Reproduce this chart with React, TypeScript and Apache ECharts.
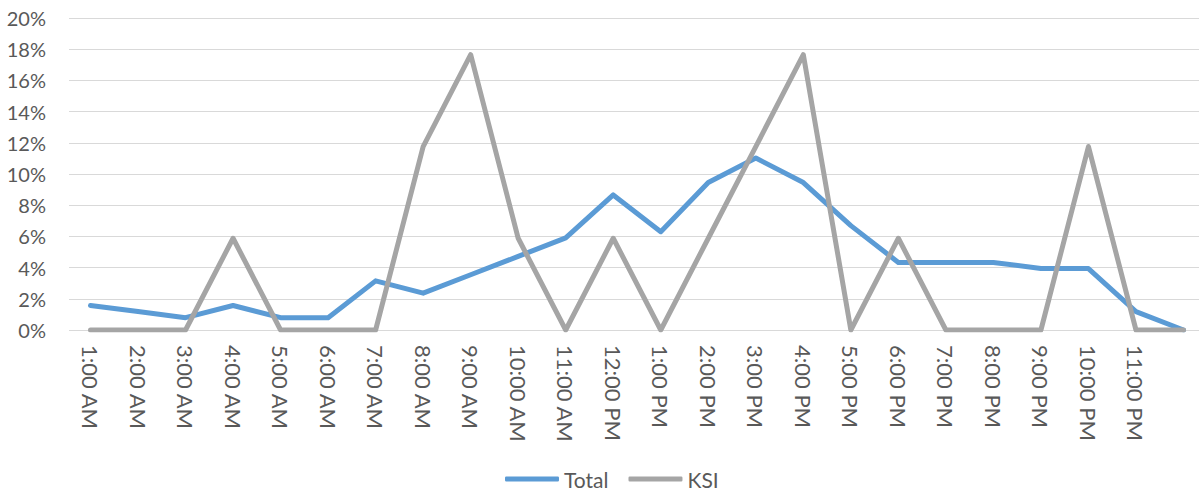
import React, { useEffect, useRef } from "react";
import * as echarts from "echarts";

const hours = [
  "1:00 AM", "2:00 AM", "3:00 AM", "4:00 AM", "5:00 AM", "6:00 AM",
  "7:00 AM", "8:00 AM", "9:00 AM", "10:00 AM", "11:00 AM", "12:00 PM",
  "1:00 PM", "2:00 PM", "3:00 PM", "4:00 PM", "5:00 PM", "6:00 PM",
  "7:00 PM", "8:00 PM", "9:00 PM", "10:00 PM", "11:00 PM", "",
];

// percent of crashes per hour
const totalPct = [
  1.57, 1.18, 0.79, 1.57, 0.79, 0.79, 3.15, 2.36, 3.54, 4.72, 5.91, 8.66,
  6.3, 9.45, 11.02, 9.45, 6.69, 4.33, 4.33, 4.33, 3.94, 3.94, 1.18, 0,
];
const ksiPct = [
  0, 0, 0, 5.88, 0, 0, 0, 11.76, 17.65, 5.88, 0, 5.88,
  0, 5.88, 11.76, 17.65, 0, 5.88, 0, 0, 0, 11.76, 0, 0,
];

const yMin = 0;
const yMax = 20;
const yStep = 2;

const seriesNames = ["Total", "KSI"];
const seriesColors = ["#5B9BD5", "#A5A5A5"];

export default function App() {
  const ref = useRef<HTMLDivElement>(null);

  useEffect(() => {
    const chart = echarts.init(ref.current!, null, { renderer: "svg" });
    const font = "Lato";
    chart.setOption({
      animation: false,
      textStyle: { fontFamily: font },
      grid: [
        { left: 69, right: 0, top: 18, height: 312 },
        { left: 90.5, width: 1093, top: 18, height: 312 },
      ],
      xAxis: [
        { gridIndex: 0, type: "category", data: hours, show: false },
        {
          gridIndex: 1,
          type: "category",
          data: hours,
          boundaryGap: false,
          axisLine: { show: false },
          axisTick: { show: false },
          axisLabel: {
            rotate: -90,
            interval: 0,
            margin: 15,
            fontSize: 22,
            color: "#595959",
            fontFamily: font,
          },
        },
      ],
      yAxis: [
        {
          gridIndex: 0,
          type: "value",
          min: yMin,
          max: yMax,
          interval: yStep,
          axisLine: { show: false },
          axisTick: { show: false },
          axisLabel: {
            formatter: "{value}%",
            margin: 23,
            fontSize: 20,
            color: "#595959",
            fontFamily: font,
          },
          splitLine: { lineStyle: { color: "#D9D9D9", width: 1 } },
        },
        {
          gridIndex: 1,
          type: "value",
          min: yMin,
          max: yMax,
          interval: yStep,
          show: false,
          splitLine: { show: false },
        },
      ],
      legend: {
        left: 505,
        top: 468,
        padding: 0,
        icon: "roundRect",
        itemWidth: 54,
        itemHeight: 5,
        itemGap: 20,
        data: seriesNames,
        textStyle: {
          fontSize: 21,
          lineHeight: 22,
          color: "#595959",
          fontFamily: font,
        },
      },
      series: [
        {
          name: seriesNames[0],
          type: "line",
          xAxisIndex: 1,
          yAxisIndex: 1,
          data: totalPct,
          symbol: "none",
          color: seriesColors[0],
          lineStyle: { width: 5, color: seriesColors[0], cap: "round", join: "round" },
        },
        {
          name: seriesNames[1],
          type: "line",
          xAxisIndex: 1,
          yAxisIndex: 1,
          data: ksiPct,
          symbol: "none",
          color: seriesColors[1],
          lineStyle: { width: 5, color: seriesColors[1], cap: "round", join: "round" },
        },
      ],
    });
    return () => chart.dispose();
  }, []);

  return (
    <div
      ref={ref}
      style={{ position: "absolute", left: 0, top: 0, width: 1199, height: 491 }}
    />
  );
}
